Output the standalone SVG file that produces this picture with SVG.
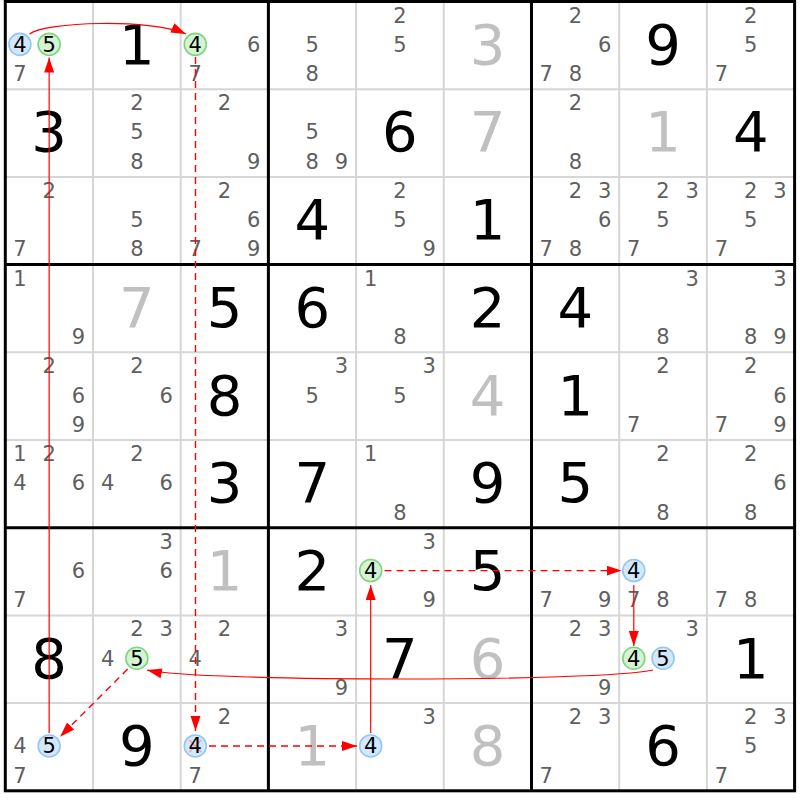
<svg xmlns="http://www.w3.org/2000/svg" width="800" height="800" viewBox="0 0 800 800">
<style>
text{font-family:"DejaVu Sans",Verdana,sans-serif;text-anchor:middle}
.c{font-size:21px;fill:#5f5f5f}
.k{font-size:21px;fill:#000}
.g{font-size:56px;fill:#000}
.s{font-size:56px;fill:#c0c0c0}
.cb{fill:#d3e8fc;stroke:#93c6f5;stroke-width:1.6}
.cg{fill:#d4f4d4;stroke:#7fd47f;stroke-width:1.6}
.thin{stroke:#d6d6d6;stroke-width:2}
.thick{stroke:#000;stroke-width:3;fill:none}
.ln{fill:none;stroke:#f00;stroke-width:1.2}
.dl{fill:none;stroke:#f00;stroke-width:1.4;stroke-dasharray:7 5}
</style>
<defs>
<marker id="ah" markerUnits="userSpaceOnUse" markerWidth="16" markerHeight="12" refX="15" refY="5" orient="auto">
<path d="M0,0 L15,5 L0,10 Z" fill="#f00"/>
</marker>
</defs>
<rect width="800" height="800" fill="#fff"/>
<g id="grid">
<path class="thin" d="M93,1.5V790.8M180.7,1.5V790.8M356.1,1.5V790.8M443.8,1.5V790.8M619.2,1.5V790.8M706.9,1.5V790.8M5.3,89.2H794.6M5.3,176.9H794.6M5.3,352.3H794.6M5.3,440H794.6M5.3,615.4H794.6M5.3,703.1H794.6"/>
<path class="thick" d="M268.4,1.5V790.8M531.5,1.5V790.8M5.3,264.6H794.6M5.3,527.7H794.6"/>
<rect class="thick" x="5.3" y="1.5" width="789.3" height="789.3"/>
</g>
<!-- row 0 -->
<g id="r0c0" transform="translate(5.3,1.5)"><circle class="cb" cx="14.6" cy="42.85" r="11"/><circle class="cg" cx="43.85" cy="42.85" r="11"/><text class="k" x="14.6" y="50.25">4</text><text class="k" x="43.85" y="50.25">5</text><text class="c" x="14.6" y="79.5">7</text></g>
<g id="r0c1" transform="translate(93,1.5)"><text class="g" x="43.85" y="62.3">1</text></g>
<g id="r0c2" transform="translate(180.7,1.5)"><circle class="cg" cx="14.6" cy="42.85" r="11"/><text class="k" x="14.6" y="50.25">4</text><text class="c" x="73.1" y="50.25">6</text><text class="c" x="14.6" y="79.5">7</text></g>
<g id="r0c3" transform="translate(268.4,1.5)"><text class="c" x="43.85" y="50.25">5</text><text class="c" x="43.85" y="79.5">8</text></g>
<g id="r0c4" transform="translate(356.1,1.5)"><text class="c" x="43.85" y="21">2</text><text class="c" x="43.85" y="50.25">5</text></g>
<g id="r0c5" transform="translate(443.8,1.5)"><text class="s" x="43.85" y="62.3">3</text></g>
<g id="r0c6" transform="translate(531.5,1.5)"><text class="c" x="43.85" y="21">2</text><text class="c" x="73.1" y="50.25">6</text><text class="c" x="14.6" y="79.5">7</text><text class="c" x="43.85" y="79.5">8</text></g>
<g id="r0c7" transform="translate(619.2,1.5)"><text class="g" x="43.85" y="62.3">9</text></g>
<g id="r0c8" transform="translate(706.9,1.5)"><text class="c" x="43.85" y="21">2</text><text class="c" x="43.85" y="50.25">5</text><text class="c" x="14.6" y="79.5">7</text></g>
<!-- row 1 -->
<g id="r1c0" transform="translate(5.3,89.2)"><text class="g" x="43.85" y="62.3">3</text></g>
<g id="r1c1" transform="translate(93,89.2)"><text class="c" x="43.85" y="21">2</text><text class="c" x="43.85" y="50.25">5</text><text class="c" x="43.85" y="79.5">8</text></g>
<g id="r1c2" transform="translate(180.7,89.2)"><text class="c" x="43.85" y="21">2</text><text class="c" x="73.1" y="79.5">9</text></g>
<g id="r1c3" transform="translate(268.4,89.2)"><text class="c" x="43.85" y="50.25">5</text><text class="c" x="43.85" y="79.5">8</text><text class="c" x="73.1" y="79.5">9</text></g>
<g id="r1c4" transform="translate(356.1,89.2)"><text class="g" x="43.85" y="62.3">6</text></g>
<g id="r1c5" transform="translate(443.8,89.2)"><text class="s" x="43.85" y="62.3">7</text></g>
<g id="r1c6" transform="translate(531.5,89.2)"><text class="c" x="43.85" y="21">2</text><text class="c" x="43.85" y="79.5">8</text></g>
<g id="r1c7" transform="translate(619.2,89.2)"><text class="s" x="43.85" y="62.3">1</text></g>
<g id="r1c8" transform="translate(706.9,89.2)"><text class="g" x="43.85" y="62.3">4</text></g>
<!-- row 2 -->
<g id="r2c0" transform="translate(5.3,176.9)"><text class="c" x="43.85" y="21">2</text><text class="c" x="14.6" y="79.5">7</text></g>
<g id="r2c1" transform="translate(93,176.9)"><text class="c" x="43.85" y="50.25">5</text><text class="c" x="43.85" y="79.5">8</text></g>
<g id="r2c2" transform="translate(180.7,176.9)"><text class="c" x="43.85" y="21">2</text><text class="c" x="73.1" y="50.25">6</text><text class="c" x="14.6" y="79.5">7</text><text class="c" x="73.1" y="79.5">9</text></g>
<g id="r2c3" transform="translate(268.4,176.9)"><text class="g" x="43.85" y="62.3">4</text></g>
<g id="r2c4" transform="translate(356.1,176.9)"><text class="c" x="43.85" y="21">2</text><text class="c" x="43.85" y="50.25">5</text><text class="c" x="73.1" y="79.5">9</text></g>
<g id="r2c5" transform="translate(443.8,176.9)"><text class="g" x="43.85" y="62.3">1</text></g>
<g id="r2c6" transform="translate(531.5,176.9)"><text class="c" x="43.85" y="21">2</text><text class="c" x="73.1" y="21">3</text><text class="c" x="73.1" y="50.25">6</text><text class="c" x="14.6" y="79.5">7</text><text class="c" x="43.85" y="79.5">8</text></g>
<g id="r2c7" transform="translate(619.2,176.9)"><text class="c" x="43.85" y="21">2</text><text class="c" x="73.1" y="21">3</text><text class="c" x="43.85" y="50.25">5</text><text class="c" x="14.6" y="79.5">7</text></g>
<g id="r2c8" transform="translate(706.9,176.9)"><text class="c" x="43.85" y="21">2</text><text class="c" x="73.1" y="21">3</text><text class="c" x="43.85" y="50.25">5</text><text class="c" x="14.6" y="79.5">7</text></g>
<!-- row 3 -->
<g id="r3c0" transform="translate(5.3,264.6)"><text class="c" x="14.6" y="21">1</text><text class="c" x="73.1" y="79.5">9</text></g>
<g id="r3c1" transform="translate(93,264.6)"><text class="s" x="43.85" y="62.3">7</text></g>
<g id="r3c2" transform="translate(180.7,264.6)"><text class="g" x="43.85" y="62.3">5</text></g>
<g id="r3c3" transform="translate(268.4,264.6)"><text class="g" x="43.85" y="62.3">6</text></g>
<g id="r3c4" transform="translate(356.1,264.6)"><text class="c" x="14.6" y="21">1</text><text class="c" x="43.85" y="79.5">8</text></g>
<g id="r3c5" transform="translate(443.8,264.6)"><text class="g" x="43.85" y="62.3">2</text></g>
<g id="r3c6" transform="translate(531.5,264.6)"><text class="g" x="43.85" y="62.3">4</text></g>
<g id="r3c7" transform="translate(619.2,264.6)"><text class="c" x="73.1" y="21">3</text><text class="c" x="43.85" y="79.5">8</text></g>
<g id="r3c8" transform="translate(706.9,264.6)"><text class="c" x="73.1" y="21">3</text><text class="c" x="43.85" y="79.5">8</text><text class="c" x="73.1" y="79.5">9</text></g>
<!-- row 4 -->
<g id="r4c0" transform="translate(5.3,352.3)"><text class="c" x="43.85" y="21">2</text><text class="c" x="73.1" y="50.25">6</text><text class="c" x="73.1" y="79.5">9</text></g>
<g id="r4c1" transform="translate(93,352.3)"><text class="c" x="43.85" y="21">2</text><text class="c" x="73.1" y="50.25">6</text></g>
<g id="r4c2" transform="translate(180.7,352.3)"><text class="g" x="43.85" y="62.3">8</text></g>
<g id="r4c3" transform="translate(268.4,352.3)"><text class="c" x="73.1" y="21">3</text><text class="c" x="43.85" y="50.25">5</text></g>
<g id="r4c4" transform="translate(356.1,352.3)"><text class="c" x="73.1" y="21">3</text><text class="c" x="43.85" y="50.25">5</text></g>
<g id="r4c5" transform="translate(443.8,352.3)"><text class="s" x="43.85" y="62.3">4</text></g>
<g id="r4c6" transform="translate(531.5,352.3)"><text class="g" x="43.85" y="62.3">1</text></g>
<g id="r4c7" transform="translate(619.2,352.3)"><text class="c" x="43.85" y="21">2</text><text class="c" x="14.6" y="79.5">7</text></g>
<g id="r4c8" transform="translate(706.9,352.3)"><text class="c" x="43.85" y="21">2</text><text class="c" x="73.1" y="50.25">6</text><text class="c" x="14.6" y="79.5">7</text><text class="c" x="73.1" y="79.5">9</text></g>
<!-- row 5 -->
<g id="r5c0" transform="translate(5.3,440)"><text class="c" x="14.6" y="21">1</text><text class="c" x="43.85" y="21">2</text><text class="c" x="14.6" y="50.25">4</text><text class="c" x="73.1" y="50.25">6</text></g>
<g id="r5c1" transform="translate(93,440)"><text class="c" x="43.85" y="21">2</text><text class="c" x="14.6" y="50.25">4</text><text class="c" x="73.1" y="50.25">6</text></g>
<g id="r5c2" transform="translate(180.7,440)"><text class="g" x="43.85" y="62.3">3</text></g>
<g id="r5c3" transform="translate(268.4,440)"><text class="g" x="43.85" y="62.3">7</text></g>
<g id="r5c4" transform="translate(356.1,440)"><text class="c" x="14.6" y="21">1</text><text class="c" x="43.85" y="79.5">8</text></g>
<g id="r5c5" transform="translate(443.8,440)"><text class="g" x="43.85" y="62.3">9</text></g>
<g id="r5c6" transform="translate(531.5,440)"><text class="g" x="43.85" y="62.3">5</text></g>
<g id="r5c7" transform="translate(619.2,440)"><text class="c" x="43.85" y="21">2</text><text class="c" x="43.85" y="79.5">8</text></g>
<g id="r5c8" transform="translate(706.9,440)"><text class="c" x="43.85" y="21">2</text><text class="c" x="73.1" y="50.25">6</text><text class="c" x="43.85" y="79.5">8</text></g>
<!-- row 6 -->
<g id="r6c0" transform="translate(5.3,527.7)"><text class="c" x="73.1" y="50.25">6</text><text class="c" x="14.6" y="79.5">7</text></g>
<g id="r6c1" transform="translate(93,527.7)"><text class="c" x="73.1" y="21">3</text><text class="c" x="73.1" y="50.25">6</text></g>
<g id="r6c2" transform="translate(180.7,527.7)"><text class="s" x="43.85" y="62.3">1</text></g>
<g id="r6c3" transform="translate(268.4,527.7)"><text class="g" x="43.85" y="62.3">2</text></g>
<g id="r6c4" transform="translate(356.1,527.7)"><text class="c" x="73.1" y="21">3</text><circle class="cg" cx="14.6" cy="42.85" r="11"/><text class="k" x="14.6" y="50.25">4</text><text class="c" x="73.1" y="79.5">9</text></g>
<g id="r6c5" transform="translate(443.8,527.7)"><text class="g" x="43.85" y="62.3">5</text></g>
<g id="r6c6" transform="translate(531.5,527.7)"><text class="c" x="14.6" y="79.5">7</text><text class="c" x="73.1" y="79.5">9</text></g>
<g id="r6c7" transform="translate(619.2,527.7)"><circle class="cb" cx="14.6" cy="42.85" r="11"/><text class="k" x="14.6" y="50.25">4</text><text class="c" x="14.6" y="79.5">7</text><text class="c" x="43.85" y="79.5">8</text></g>
<g id="r6c8" transform="translate(706.9,527.7)"><text class="c" x="14.6" y="79.5">7</text><text class="c" x="43.85" y="79.5">8</text></g>
<!-- row 7 -->
<g id="r7c0" transform="translate(5.3,615.4)"><text class="g" x="43.85" y="62.3">8</text></g>
<g id="r7c1" transform="translate(93,615.4)"><text class="c" x="43.85" y="21">2</text><text class="c" x="73.1" y="21">3</text><text class="c" x="14.6" y="50.25">4</text><circle class="cg" cx="43.85" cy="42.85" r="11"/><text class="k" x="43.85" y="50.25">5</text></g>
<g id="r7c2" transform="translate(180.7,615.4)"><text class="c" x="43.85" y="21">2</text><text class="c" x="14.6" y="50.25">4</text></g>
<g id="r7c3" transform="translate(268.4,615.4)"><text class="c" x="73.1" y="21">3</text><text class="c" x="73.1" y="79.5">9</text></g>
<g id="r7c4" transform="translate(356.1,615.4)"><text class="g" x="43.85" y="62.3">7</text></g>
<g id="r7c5" transform="translate(443.8,615.4)"><text class="s" x="43.85" y="62.3">6</text></g>
<g id="r7c6" transform="translate(531.5,615.4)"><text class="c" x="43.85" y="21">2</text><text class="c" x="73.1" y="21">3</text><text class="c" x="73.1" y="79.5">9</text></g>
<g id="r7c7" transform="translate(619.2,615.4)"><text class="c" x="73.1" y="21">3</text><circle class="cg" cx="14.6" cy="42.85" r="11"/><circle class="cb" cx="43.85" cy="42.85" r="11"/><text class="k" x="14.6" y="50.25">4</text><text class="k" x="43.85" y="50.25">5</text></g>
<g id="r7c8" transform="translate(706.9,615.4)"><text class="g" x="43.85" y="62.3">1</text></g>
<!-- row 8 -->
<g id="r8c0" transform="translate(5.3,703.1)"><text class="c" x="14.6" y="50.25">4</text><circle class="cb" cx="43.85" cy="42.85" r="11"/><text class="k" x="43.85" y="50.25">5</text><text class="c" x="14.6" y="79.5">7</text></g>
<g id="r8c1" transform="translate(93,703.1)"><text class="g" x="43.85" y="62.3">9</text></g>
<g id="r8c2" transform="translate(180.7,703.1)"><text class="c" x="43.85" y="21">2</text><circle class="cb" cx="14.6" cy="42.85" r="11"/><path d="M8.6,36.85L20.6,48.85M20.6,36.85L8.6,48.85" stroke="#f4a3a3" stroke-width="1.6"/><text class="k" x="14.6" y="50.25">4</text><text class="c" x="14.6" y="79.5">7</text></g>
<g id="r8c3" transform="translate(268.4,703.1)"><text class="s" x="43.85" y="62.3">1</text></g>
<g id="r8c4" transform="translate(356.1,703.1)"><text class="c" x="73.1" y="21">3</text><circle class="cb" cx="14.6" cy="42.85" r="11"/><text class="k" x="14.6" y="50.25">4</text></g>
<g id="r8c5" transform="translate(443.8,703.1)"><text class="s" x="43.85" y="62.3">8</text></g>
<g id="r8c6" transform="translate(531.5,703.1)"><text class="c" x="43.85" y="21">2</text><text class="c" x="73.1" y="21">3</text><text class="c" x="14.6" y="79.5">7</text></g>
<g id="r8c7" transform="translate(619.2,703.1)"><text class="g" x="43.85" y="62.3">6</text></g>
<g id="r8c8" transform="translate(706.9,703.1)"><text class="c" x="43.85" y="21">2</text><text class="c" x="73.1" y="21">3</text><text class="c" x="43.85" y="50.25">5</text><text class="c" x="14.6" y="79.5">7</text></g>
<g id="links">
<path class="ln" d="M29.5,34 C45,22 150,18 186,34" marker-end="url(#ah)"/>
<path class="ln" d="M49.15,733 L49.15,57.5" marker-end="url(#ah)"/>
<path class="dl" d="M195.5,57 L195.5,731" marker-end="url(#ah)"/>
<path class="dl" d="M209,746 L357,746" marker-end="url(#ah)"/>
<path class="ln" d="M370.7,733 L370.7,585" marker-end="url(#ah)"/>
<path class="dl" d="M384.5,570.6 L621.5,570.6" marker-end="url(#ah)"/>
<path class="ln" d="M633.8,585 L633.8,646" marker-end="url(#ah)"/>
<path class="ln" d="M653,670 C600,682 200,682 147,670" marker-end="url(#ah)"/>
<path class="dl" d="M127.7,669 L60,736.7" marker-end="url(#ah)"/>
</g>
</svg>
